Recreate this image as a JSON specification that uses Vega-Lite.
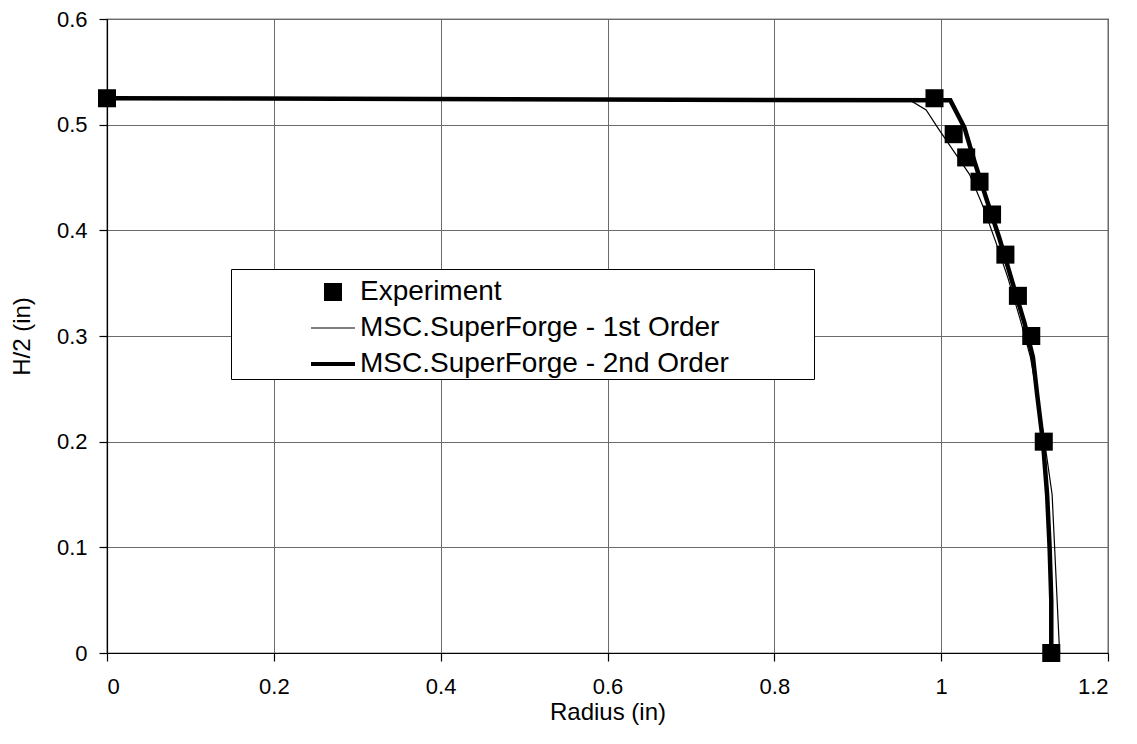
{
  "$schema": "https://vega.github.io/schema/vega-lite/v6.json",
  "width": 1001,
  "height": 634,
  "autosize": {"type": "none"},
  "padding": {"left": 107, "top": 19, "right": 29, "bottom": 91},
  "background": "white",
  "config": {
    "font": "Liberation Sans",
    "view": {"stroke": "black", "strokeWidth": 1.2},
    "axis": {
      "domainColor": "black",
      "domainWidth": 1.2,
      "tickColor": "black",
      "tickWidth": 1.2,
      "tickSize": 8,
      "gridColor": "#6b6b6b",
      "gridWidth": 1,
      "gridOpacity": 1,
      "labelFont": "Liberation Sans",
      "labelFontSize": 22,
      "labelColor": "black",
      "titleFont": "Liberation Sans",
      "titleFontSize": 24,
      "titleFontWeight": "normal",
      "titleColor": "black"
    }
  },
  "data": {
    "values": [
      {"series": "MSC.SuperForge - 1st Order", "i": 1, "r": 0, "h": 0.525},
      {"series": "MSC.SuperForge - 1st Order", "i": 2, "r": 0.965, "h": 0.522},
      {"series": "MSC.SuperForge - 1st Order", "i": 3, "r": 0.982, "h": 0.514},
      {"series": "MSC.SuperForge - 1st Order", "i": 4, "r": 0.996, "h": 0.497},
      {"series": "MSC.SuperForge - 1st Order", "i": 5, "r": 1.015, "h": 0.475},
      {"series": "MSC.SuperForge - 1st Order", "i": 6, "r": 1.034, "h": 0.453},
      {"series": "MSC.SuperForge - 1st Order", "i": 7, "r": 1.05, "h": 0.423},
      {"series": "MSC.SuperForge - 1st Order", "i": 8, "r": 1.065, "h": 0.39},
      {"series": "MSC.SuperForge - 1st Order", "i": 9, "r": 1.08, "h": 0.355},
      {"series": "MSC.SuperForge - 1st Order", "i": 10, "r": 1.095, "h": 0.315},
      {"series": "MSC.SuperForge - 1st Order", "i": 11, "r": 1.107, "h": 0.28},
      {"series": "MSC.SuperForge - 1st Order", "i": 12, "r": 1.116, "h": 0.24},
      {"series": "MSC.SuperForge - 1st Order", "i": 13, "r": 1.124, "h": 0.2},
      {"series": "MSC.SuperForge - 1st Order", "i": 14, "r": 1.133, "h": 0.15},
      {"series": "MSC.SuperForge - 1st Order", "i": 15, "r": 1.136, "h": 0.1},
      {"series": "MSC.SuperForge - 1st Order", "i": 16, "r": 1.139, "h": 0.05},
      {"series": "MSC.SuperForge - 1st Order", "i": 17, "r": 1.142, "h": 0},
      {"series": "MSC.SuperForge - 2nd Order", "i": 1, "r": 0, "h": 0.525},
      {"series": "MSC.SuperForge - 2nd Order", "i": 2, "r": 1.011, "h": 0.523},
      {"series": "MSC.SuperForge - 2nd Order", "i": 3, "r": 1.028, "h": 0.497},
      {"series": "MSC.SuperForge - 2nd Order", "i": 4, "r": 1.04, "h": 0.465},
      {"series": "MSC.SuperForge - 2nd Order", "i": 5, "r": 1.055, "h": 0.428},
      {"series": "MSC.SuperForge - 2nd Order", "i": 6, "r": 1.07, "h": 0.392},
      {"series": "MSC.SuperForge - 2nd Order", "i": 7, "r": 1.085, "h": 0.352},
      {"series": "MSC.SuperForge - 2nd Order", "i": 8, "r": 1.1, "h": 0.312},
      {"series": "MSC.SuperForge - 2nd Order", "i": 9, "r": 1.11, "h": 0.28},
      {"series": "MSC.SuperForge - 2nd Order", "i": 10, "r": 1.115, "h": 0.245},
      {"series": "MSC.SuperForge - 2nd Order", "i": 11, "r": 1.122, "h": 0.2},
      {"series": "MSC.SuperForge - 2nd Order", "i": 12, "r": 1.127, "h": 0.15},
      {"series": "MSC.SuperForge - 2nd Order", "i": 13, "r": 1.13, "h": 0.1},
      {"series": "MSC.SuperForge - 2nd Order", "i": 14, "r": 1.132, "h": 0.05},
      {"series": "MSC.SuperForge - 2nd Order", "i": 15, "r": 1.132, "h": 0},
      {"series": "Experiment", "i": 1, "r": 0, "h": 0.525},
      {"series": "Experiment", "i": 2, "r": 0.992, "h": 0.525},
      {"series": "Experiment", "i": 3, "r": 1.015, "h": 0.491},
      {"series": "Experiment", "i": 4, "r": 1.03, "h": 0.469},
      {"series": "Experiment", "i": 5, "r": 1.046, "h": 0.446},
      {"series": "Experiment", "i": 6, "r": 1.061, "h": 0.415},
      {"series": "Experiment", "i": 7, "r": 1.077, "h": 0.377},
      {"series": "Experiment", "i": 8, "r": 1.092, "h": 0.338},
      {"series": "Experiment", "i": 9, "r": 1.108, "h": 0.3},
      {"series": "Experiment", "i": 10, "r": 1.123, "h": 0.2},
      {"series": "Experiment", "i": 11, "r": 1.132, "h": 0}
    ]
  },
  "encoding": {
    "x": {
      "field": "r",
      "type": "quantitative",
      "title": "Radius (in)",
      "scale": {"domain": [0, 1.2], "nice": false, "zero": false},
      "axis": {"values": [0, 0.2, 0.4, 0.6, 0.8, 1, 1.2], "format": "~g", "labelPadding": 15, "titlePadding": 3}
    },
    "y": {
      "field": "h",
      "type": "quantitative",
      "title": "H/2 (in)",
      "scale": {"domain": [0, 0.6], "nice": false, "zero": false},
      "axis": {"values": [0, 0.1, 0.2, 0.3, 0.4, 0.5, 0.6], "format": "~g", "labelPadding": 12, "titlePadding": 22}
    }
  },
  "layer": [
    {
      "transform": [{"filter": "datum.series === 'MSC.SuperForge - 1st Order'"}],
      "mark": {"type": "line", "color": "black", "strokeWidth": 1.2},
      "encoding": {"order": {"field": "i", "type": "quantitative"}}
    },
    {
      "transform": [{"filter": "datum.series === 'MSC.SuperForge - 2nd Order'"}],
      "mark": {"type": "line", "color": "black", "strokeWidth": 4.5},
      "encoding": {"order": {"field": "i", "type": "quantitative"}}
    },
    {
      "transform": [{"filter": "datum.series === 'Experiment'"}],
      "mark": {"type": "point", "filled": true, "color": "black", "opacity": 1, "size": 1936, "strokeWidth": 0},
      "encoding": {
        "shape": {
          "field": "series",
          "type": "nominal",
          "scale": {
            "domain": ["Experiment", "MSC.SuperForge - 1st Order", "MSC.SuperForge - 2nd Order"],
            "range": [
              "M-0.41,-0.41H0.41V0.41H-0.41Z",
              "M-1,-0.026H1V0.026H-1Z",
              "M-1,-0.095H1V0.095H-1Z"
            ]
          },
          "legend": {
            "title": null,
            "orient": "none",
            "legendX": 124,
            "legendY": 250,
            "padding": 1,
            "fillColor": "white",
            "strokeColor": "black",
            "labelFont": "Liberation Sans",
            "labelFontSize": 28,
            "labelColor": "black",
            "labelLimit": 0,
            "labelOffset": 5,
            "symbolOffset": 79,
            "symbolSize": 1936,
            "symbolFillColor": "black",
            "symbolStrokeWidth": 0,
            "symbolOpacity": 1,
            "rowPadding": 0,
            "labelExpr": "datum.label + '\u2800\u2800\u2800\u2800'"
          }
        }
      }
    }
  ]
}
